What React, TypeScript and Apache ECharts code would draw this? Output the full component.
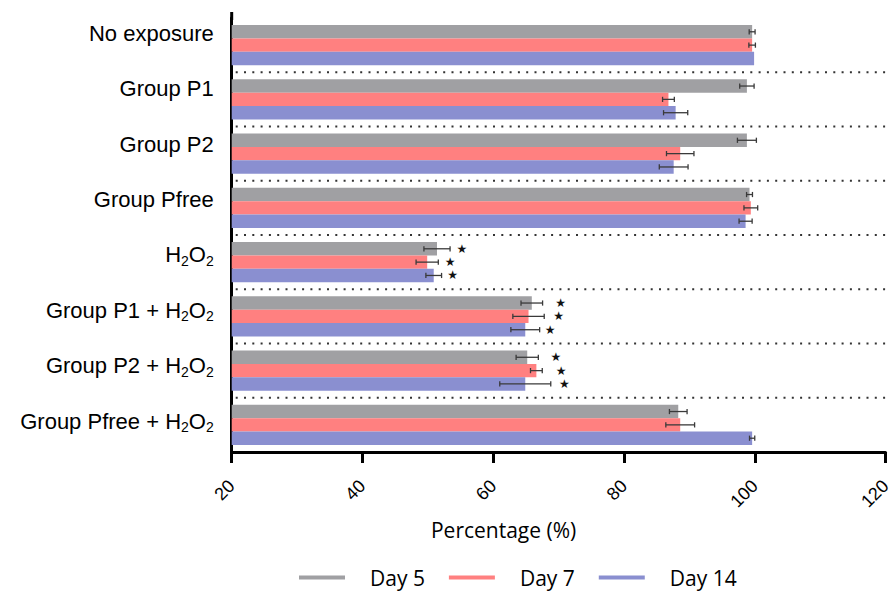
import React, { useEffect, useRef } from 'react';
import * as echarts from 'echarts';

const categories = [
  'No exposure',
  'Group P1',
  'Group P2',
  'Group Pfree',
  'H2O2',
  'Group P1 + H2O2',
  'Group P2 + H2O2',
  'Group Pfree + H2O2',
];
const seriesNames = ['Day 5', 'Day 7', 'Day 14'];
const colors = ['#A0A0A3', '#FF8080', '#8A8FD0'];

const day5 = [99.6, 98.8, 98.8, 99.2, 51.4, 65.9, 65.2, 88.3];
const day7 = [99.6, 86.8, 88.6, 99.4, 49.9, 65.4, 66.6, 88.6];
const day14 = [99.9, 87.9, 87.6, 98.6, 50.9, 64.9, 64.9, 99.6];

const day5Err = [0.45, 1.1, 1.45, 0.45, 2.0, 1.65, 1.7, 1.35];
const day7Err = [0.5, 0.9, 2.1, 1.05, 1.7, 2.4, 0.9, 2.2];
const day14Err = [0, 1.85, 2.2, 1.0, 1.2, 2.2, 3.9, 0.4];

// x position (in %) of the significance star, null = no star
const day5Star = [null, null, null, null, 55.2, 70.3, 69.6, null];
const day7Star = [null, null, null, null, 53.4, 70.0, 70.4, null];
const day14Star = [null, null, null, null, 53.8, 68.7, 70.9, null];

const xMin = 20;
const xMax = 120;
const xStep = 20;

const allValues = [day5, day7, day14];
const allErrs = [day5Err, day7Err, day14Err];
const allStars = [day5Star, day7Star, day14Star];

const BAR_FRAC = 0.246;

export default function App() {
  const ref = useRef<HTMLDivElement>(null);

  useEffect(() => {
    if (!ref.current) return;
    const chart = echarts.init(ref.current, undefined, { renderer: 'svg' });

    const barSeries = seriesNames.map((name, i) => ({
      name,
      type: 'bar',
      xAxisIndex: 0,
      yAxisIndex: 0,
      data: allValues[i],
      barWidth: '24.6%',
      barGap: '0%',
      itemStyle: { color: colors[i] },
      silent: true,
      z: 2,
    }));

    const errSeries = seriesNames.map((name, i) => ({
      name: name + ' err',
      type: 'custom',
      xAxisIndex: 0,
      yAxisIndex: 0,
      z: 5,
      silent: true,
      encode: { x: 0, y: 1 },
      data: allValues[i].map((v, k) => [
        v,
        k,
        allErrs[i][k],
        allStars[i][k] == null ? NaN : allStars[i][k],
      ]),
      renderItem: (params: any, api: any) => {
        const v = api.value(0);
        const c = api.value(1);
        const e = api.value(2);
        const s = api.value(3);
        const band = api.size([0, 1])[1];
        const barPx = band * BAR_FRAC;
        const center = api.coord([v, c]);
        const y = center[1] + (i - 1) * barPx;
        const children: any[] = [];
        if (e > 0) {
          const lo = api.coord([v - e, c])[0];
          const hi = api.coord([v + e, c])[0];
          const st = { stroke: '#3a3a3a', lineWidth: 1.3 };
          children.push({ type: 'line', shape: { x1: lo, y1: y, x2: hi, y2: y }, style: st });
          children.push({ type: 'line', shape: { x1: lo, y1: y - 2.6, x2: lo, y2: y + 2.6 }, style: st });
          children.push({ type: 'line', shape: { x1: hi, y1: y - 2.6, x2: hi, y2: y + 2.6 }, style: st });
        }
        if (isFinite(s)) {
          const sx = api.coord([s, c])[0];
          children.push({
            type: 'text',
            x: sx,
            y: y,
            style: {
              text: '★',
              fontSize: 12,
              fill: '#111',
              align: 'center',
              verticalAlign: 'middle',
              fontFamily: 'DejaVu Sans',
            },
          });
        }
        return { type: 'group', children };
      },
    }));

    const sepSeries = {
      name: 'separators',
      type: 'custom',
      xAxisIndex: 0,
      yAxisIndex: 0,
      z: 1,
      silent: true,
      encode: { x: 0, y: 1 },
      data: categories.slice(1).map((_, k) => [xMin, k + 1]),
      renderItem: (params: any, api: any) => {
        const c = api.value(1);
        const band = api.size([0, 1])[1];
        const y = api.coord([xMin, c])[1] - band / 2;
        const cs = params.coordSys;
        return {
          type: 'line',
          shape: { x1: cs.x + 4, y1: y, x2: cs.x + cs.width + 2, y2: y },
          style: { stroke: '#333', lineWidth: 2, lineDash: [2, 6.3] },
        };
      },
    };

    const labelFormatter = (v: string) => {
      const parts = v.split('H2O2');
      return parts
        .map((p) => (p ? `{a|${p}}` : ''))
        .join('{a|H}{s|2}{a|O}{s|2}');
    };

    const option: any = {
      animation: false,
      backgroundColor: '#fff',
      grid: [
        { left: 231.7, width: 656.3, top: 18, height: 434, containLabel: false },
        { left: 231.7, width: 656.3, top: 5.6, height: 443.2, containLabel: false },
      ],
      legend: {
        data: seriesNames,
        left: 294,
        top: 562,
        icon: 'rect',
        itemWidth: 46,
        itemHeight: 4,
        itemGap: 24,
        selectedMode: false,
        formatter: (n: string) => `{t|${n}}`,
        textStyle: {
          rich: {
            t: {
              fontSize: 21,
              fontFamily: 'Open Sans',
              color: '#000',
              padding: [0, 0, 0, 20],
              lineHeight: 26,
            },
          },
        },
      },
      xAxis: [
        {
          gridIndex: 0,
          type: 'value',
          min: xMin,
          max: xMax,
          interval: xStep,
          name: 'Percentage (%)',
          nameLocation: 'middle',
          nameGap: 67,
          nameTextStyle: {
            fontSize: 21,
            fontFamily: 'Open Sans',
            color: '#000',
            padding: [0, 110, 0, 0],
          },
          axisLine: { show: true, lineStyle: { color: '#000', width: 3 } },
          axisTick: { show: true, length: 11, lineStyle: { color: '#000', width: 3 } },
          splitLine: { show: false },
          axisLabel: {
            rotate: 45,
            margin: 31,
            fontSize: 18,
            fontFamily: 'Liberation Sans',
            color: '#000',
          },
        },
        {
          gridIndex: 1,
          type: 'value',
          min: xMin,
          max: xMax,
          show: false,
        },
      ],
      yAxis: [
        {
          gridIndex: 0,
          type: 'category',
          data: categories,
          inverse: true,
          axisLine: { show: true, lineStyle: { color: '#000', width: 3 } },
          axisTick: { show: false },
          axisLabel: { show: false },
          splitLine: { show: false },
        },
        {
          gridIndex: 1,
          type: 'category',
          data: categories,
          inverse: true,
          axisLine: { show: false },
          axisTick: { show: false },
          splitLine: { show: false },
          axisLabel: {
            show: true,
            margin: 18,
            formatter: labelFormatter,
            rich: {
              a: {
                fontSize: 22,
                fontFamily: 'Liberation Sans',
                color: '#000',
                lineHeight: 26,
              },
              s: {
                fontSize: 14,
                fontFamily: 'Liberation Sans',
                color: '#000',
                lineHeight: 12,
                verticalAlign: 'bottom',
              },
            },
          },
        },
      ],
      graphic: [
        {
          type: 'rect',
          shape: { x: 230.2, y: 12, width: 3, height: 8 },
          style: { fill: '#000' },
          silent: true,
        },
      ],
      series: [sepSeries, ...barSeries, ...errSeries],
    };

    chart.setOption(option);
    return () => chart.dispose();
  }, []);

  return <div ref={ref} style={{ width: 894, height: 596, position: 'absolute', left: 0, top: 0 }} />;
}
